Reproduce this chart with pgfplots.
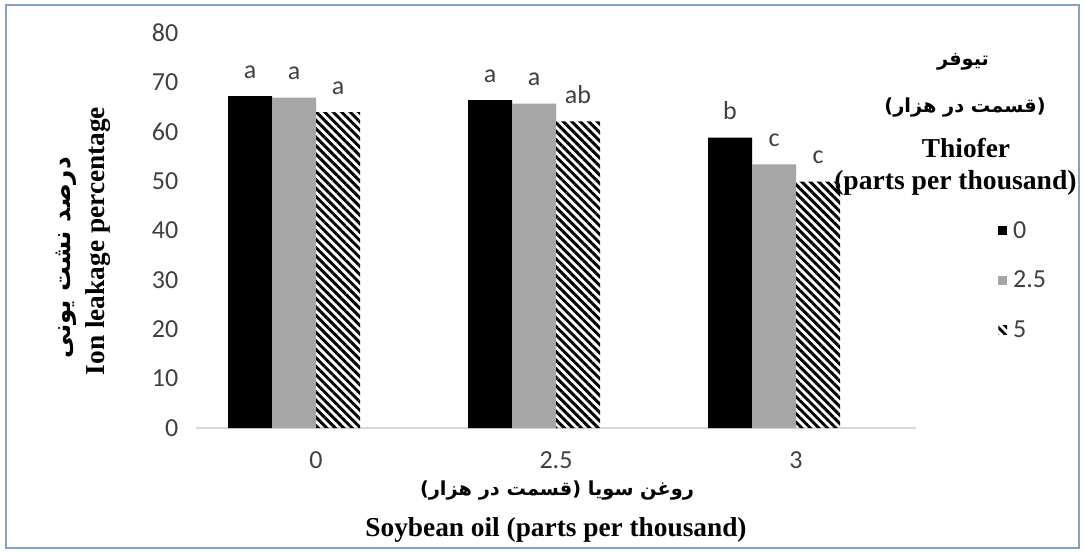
\documentclass[border=0pt]{standalone}
\usepackage{fontspec}
\usepackage{pgfplots}
\pgfplotsset{compat=1.18}
\usetikzlibrary{patterns.meta}
\setmainfont{Liberation Serif}
\newfontfamily\calib{Carlito}
\newfontfamily\fa[Script=Arabic]{DejaVu Sans}
\TeXXeTstate=1
\definecolor{barGray}{RGB}{166,166,166}
\definecolor{frameBlue}{RGB}{130,160,200}
\definecolor{axGray}{RGB}{217,217,217}
\definecolor{txt}{RGB}{64,64,64}
\newcommand{\tk}{\calib\fontsize{19.5}{22}\selectfont}
\newcommand{\ttl}{\bfseries\fontsize{20.5}{24}\selectfont}
\newcommand{\fatx}{\fa\bfseries\fontsize{14.5}{18}\selectfont}
\newcommand{\faty}{\fa\bfseries\fontsize{18.5}{22}\selectfont}
\begin{document}
\begin{tikzpicture}[x=0.75pt,y=0.75pt]
\useasboundingbox (0,0) rectangle (1084,551);
\draw[frameBlue, line width=1.5pt] (6,3) rectangle (1079,546);
\begin{axis}[
  at={(147pt,92.25pt)}, anchor=south west,
  scale only axis, width=540pt, height=296.25pt,
  xmin=-0.5, xmax=2.5, ymin=0, ymax=80,
  ybar, bar width=33pt,
  axis x line*=bottom, axis y line*=left,
  x axis line style={axGray, line width=1pt},
  y axis line style={draw=none},
  major tick length=0pt,
  xtick={0,1,2}, xticklabels={0,2.5,3},
  ytick={0,10,...,80},
  tick label style={font=\tk, text=txt},
  /pgf/number format/assume math mode=true,
  xticklabel style={yshift=-14pt},
  yticklabel style={xshift=-9.75pt},
  clip=false,
  nodes near coords,
  point meta=explicit symbolic,
  every node near coord/.append style={font=\tk, text=txt, anchor=base, inner sep=0pt, yshift=13.5pt},
  legend style={at={(1.1139,0.524)}, anchor=north west, draw=none, fill=none,
    inner sep=0pt, row sep=23pt, column sep=4.5pt, font=\tk, text=txt,
    nodes={inner sep=0pt}},
  legend cell align=left,
  legend image code/.code={\fill[#1] (0pt,-3.3pt) rectangle (6.6pt,3.3pt);},
]
\addplot[fill=black, draw=none, bar shift=-49.5pt] coordinates {(0,67.2)[a] (1,66.4)[a] (2,58.8)[b]};
\addplot[fill=barGray, draw=none, bar shift=-16.5pt] coordinates {(0,66.9)[a] (1,65.7)[a] (2,53.4)[c]};
\addplot[pattern={Lines[angle=-45,distance=4.5pt,line width=2.2pt]}, draw=none, bar shift=16.5pt] coordinates {(0,64.0)[a] (1,62.1)[ab] (2,49.9)[c]};
\legend{0,2.5,5}
\end{axis}
\node[rotate=90, font=\ttl] at (98,310) {Ion leakage percentage};
\node[rotate=90, font=\faty] at (66,293) {\beginR درصد نشت یونی\endR};
\node[font=\fatx] at (557,60) {\beginR روغن سویا (قسمت در هزار)\endR};
\node[font=\ttl] at (556,21) {Soybean oil (parts per thousand)};
\node[font=\fatx] at (963,489) {\beginR تیوفر\endR};
\node[font=\fatx] at (965,443) {\beginR (قسمت در هزار)\endR};
\node[font=\ttl] at (966,403) {Thiofer};
\node[font=\bfseries\fontsize{20.7}{24}\selectfont, anchor=west, inner sep=0pt] at (834,368) {(parts per thousand)};
\end{tikzpicture}
\end{document}
